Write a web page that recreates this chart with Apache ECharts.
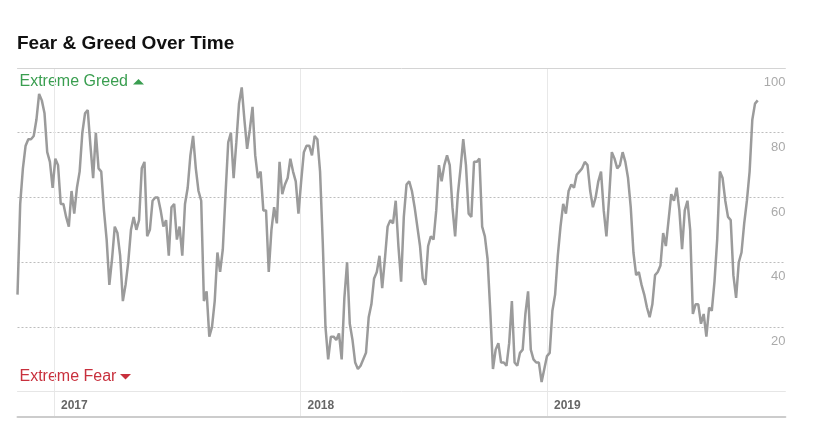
<!DOCTYPE html>
<html>
<head>
<meta charset="utf-8">
<script src="https://cdn.jsdelivr.net/npm/echarts@6/dist/echarts.min.js"></script>
<style>html,body{margin:0;padding:0;background:#fff;}#chart{width:814px;height:441px;}</style>
</head>
<body>
<div id="chart"></div>
<script>
// ---- data (Fear & Greed index, one reading every 4 days) ----
const startDate = '2016-11-08';
const stepDays = 4;
const axisStart = '2016-11-08';
const axisEnd = '2019-12-20';
const seg2016 = [30, 58, 69, 76, 78, 78, 79, 84, 92, 90, 86, 74, 71, 63, 72, 70, 58, 58, 54, 51, 62, 55, 63, 68, 80, 86, 87, 76, 66, 80, 69, 68, 56, 47, 33, 41, 51, 49, 42, 28];
const seg2017a = [33, 40, 50, 54, 50, 53, 69, 71, 48, 50, 59, 60, 60, 56, 51, 53, 42, 57, 58, 47, 51, 42, 58, 63, 73, 79, 69, 62, 59, 28, 31, 17, 20, 28, 43, 37, 44, 61, 77];
const seg2017b = [80, 66, 77, 89, 94, 84, 75, 81, 88, 73, 66, 68, 56, 56, 37, 50, 57, 52, 71, 61, 64, 66, 72, 68, 65, 55, 65, 74, 76, 76, 73, 79, 78, 68, 46, 20, 10, 17, 17];
const seg2018a = [16, 18, 10, 29, 40, 21, 16, 9, 7, 8, 10, 12, 23, 27, 35, 37, 42, 32, 41, 51, 53, 52, 59, 45, 34, 54, 64, 65, 62, 57, 51, 45, 35, 33, 45, 48, 47, 56, 70];
const seg2018b = [65, 70, 73, 70, 57, 48, 61, 69, 78, 70, 55, 54, 71, 71, 72, 51, 48, 41, 25, 7, 13, 15, 9, 9, 8, 15, 28, 9, 8, 12, 13, 24, 31, 13, 10, 9, 9, 3, 7];
const seg2019a = [11, 12, 25, 30, 42, 51, 58, 55, 62, 64, 63, 67, 68, 69, 71, 70, 62, 57, 60, 65, 68, 56, 48, 60, 74, 72, 69, 70, 74, 71, 66, 57, 43, 36, 37, 33, 30, 26, 23, 27];
const seg2019b = [36, 37, 39, 49, 45, 53, 61, 59, 63, 56, 44, 56, 59, 50, 24, 27, 27, 21, 24, 17, 26, 25, 34, 47, 68, 66, 59, 54, 53, 36, 29, 40, 43, 52, 59, 68, 84, 89, 90];
const yearLabels = ['2017', '2018', '2019'];
const greedLabel = 'Extreme Greed';
const fearLabel = 'Extreme Fear';
const titleText = 'Fear & Greed Over Time';

// ---- build ----
const values = [].concat(seg2016, seg2017a, seg2017b, seg2018a, seg2018b, seg2019a, seg2019b);
const [sy, sm, sd] = startDate.split('-').map(Number);
const data = values.map((v, i) => [new Date(sy, sm - 1, sd + i * stepDays).getTime(), v]);
function toTime(s){ const [y,m,d] = s.split('-').map(Number); return new Date(y, m - 1, d).getTime(); }
const xMin = toTime(axisStart), xMax = toTime(axisEnd);
const DAY = 86400000;
const FONT = '"Liberation Sans", Arial, Helvetica, sans-serif';

const chart = echarts.init(document.getElementById('chart'), null, {renderer: 'canvas'});
const option = {
  animation: false,
  backgroundColor: '#fff',
  title: {
    text: titleText, left: 17, top: 34, padding: 0,
    textStyle: {fontSize: 19, fontWeight: 'bold', color: '#111', fontFamily: FONT}
  },
  grid: [
    {left: 17.5, right: 28.6, top: 68, bottom: 49.3},
    {left: 17.5, right: 28.6, top: 68, bottom: 24}
  ],
  xAxis: [
    {type: 'time', gridIndex: 0, min: xMin, max: xMax,
     axisLine: {show: true, lineStyle: {color: '#e6e6e6', width: 1}},
     axisTick: {show: false}, axisLabel: {show: false}, splitLine: {show: false}},
    {type: 'time', gridIndex: 1, min: xMin, max: xMax,
     minInterval: 365 * DAY, maxInterval: 366 * DAY,
     axisLine: {show: true, lineStyle: {color: '#cccccc', width: 2}},
     axisTick: {show: false},
     splitLine: {show: true, showMinLine: false, showMaxLine: false, lineStyle: {color: '#e8e8e8', width: 1}},
     axisLabel: {
       inside: true, margin: 5, align: 'left', padding: [0, 0, 0, 7],
       showMinLabel: false, showMaxLabel: false,
       color: '#666', fontSize: 12, fontWeight: 'bold', fontFamily: FONT,
       formatter: function (v) { const d = new Date(v); const y = String(d.getFullYear()); return (d.getMonth() === 0 && d.getDate() === 1 && yearLabels.indexOf(y) >= 0) ? y : ''; }
     }},
    {type: 'time', gridIndex: 0, position: 'top', min: xMin, max: xMax,
     axisLine: {show: true, lineStyle: {color: '#d4d4d4', width: 1}},
     axisTick: {show: false}, axisLabel: {show: false}, splitLine: {show: false}}
  ],
  yAxis: [
    {type: 'value', gridIndex: 0, min: 0, max: 100, interval: 20, position: 'right',
     axisLine: {show: false}, axisTick: {show: false},
     splitLine: {show: true, showMinLine: false, showMaxLine: false, lineStyle: {color: '#bdbdbd', type: [2, 2], width: 1}},
     axisLabel: {
       inside: true, margin: 0, align: 'right', verticalAlign: 'top', padding: [8, 0, 0, 0],
       color: '#aaaaaa', fontSize: 13, fontFamily: FONT,
       formatter: function (v) { return v === 0 ? '' : String(v); }
     }},
    {type: 'value', gridIndex: 1, min: 0, max: 1, show: false, splitLine: {show: false}}
  ],
  series: [{
    type: 'line', xAxisIndex: 0, yAxisIndex: 0, data: data,
    showSymbol: false, symbol: 'none',
    lineStyle: {color: '#9b9b9b', width: 2.5},
    z: 5
  }],
  graphic: [
    {type: 'text', left: 19.5, top: 73.5, style: {text: greedLabel, fill: '#3a9e50', font: '16px ' + FONT}},
    {type: 'polygon', shape: {points: [[133, 84.5], [144, 84.5], [138.5, 79]]}, style: {fill: '#3a9e50'}},
    {type: 'text', left: 19.5, top: 369, style: {text: fearLabel, fill: '#c8303d', font: '16px ' + FONT}},
    {type: 'polygon', shape: {points: [[120, 374], [131, 374], [125.5, 379.5]]}, style: {fill: '#c8303d'}}
  ]
};
chart.setOption(option);
</script>
</body>
</html>
